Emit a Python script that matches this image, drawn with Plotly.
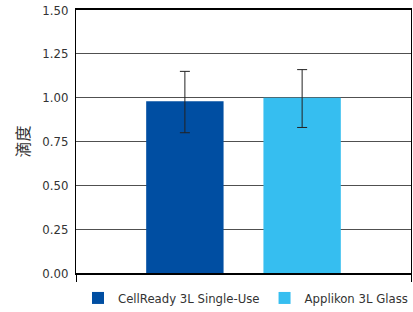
import plotly.graph_objects as go

series = ["CellReady 3L Single-Use", "Applikon 3L Glass"]
values = [0.98, 1.00]
err_plus = [0.17, 0.16]
err_minus = [0.18, 0.17]
colors = ["#004EA2", "#36BEF0"]
category = [""]
y_ticks = [0, 0.25, 0.5, 0.75, 1.0, 1.25, 1.5]
y_ticklabels = ["0.00", "0.25", "0.50", "0.75", "1.00", "1.25", "1.50"]

fig = go.Figure()
for name, v, ep, em, c in zip(series, values, err_plus, err_minus, colors):
    fig.add_trace(go.Bar(
        x=category, y=[v], name=name, marker=dict(color=c, line=dict(width=0)),
        error_y=dict(type="data", symmetric=False, array=[ep], arrayminus=[em],
                     color="#222222", thickness=1, width=5),
    ))

font_fam = "DejaVu Sans Condensed, Roboto, sans-serif"
fig.update_layout(
    width=413, height=312,
    margin=dict(l=76, r=2, t=10, b=39),
    paper_bgcolor="white", plot_bgcolor="white",
    barmode="group", bargap=0.30, bargroupgap=0.34,
    showlegend=True,
    legend=dict(orientation="h", xref="paper", x=0.049, xanchor="left",
                yref="container", y=(312 - 298) / 312, yanchor="middle",
                font=dict(family=font_fam, size=13, color="#333333"),
                itemwidth=30, traceorder="normal"),
    font=dict(family=font_fam, size=12, color="#333333"),
)
fig.update_xaxes(showline=True, mirror=True, linecolor="black", linewidth=2,
                 ticks="outside", tickson="boundaries", ticklen=7, tickcolor="black",
                 tickwidth=1, showgrid=False, showticklabels=False, automargin=False)
fig.update_yaxes(range=[0, 1.5], tickvals=y_ticks, ticktext=y_ticklabels,
                 showline=True, mirror=True, linecolor="black", linewidth=1,
                 showgrid=True, gridcolor="#505050", gridwidth=1, zeroline=False,
                 ticks="", ticklabelstandoff=4,
                 tickfont=dict(size=13, color="#333333"), automargin=False,
                 title=dict(text="滴度", font=dict(family="Noto Sans CJK SC", size=16, color="#333333"), standoff=8))
fig.write_html("out.html", config={"displayModeBar": False},
               post_script="document.body.style.margin='0';")
